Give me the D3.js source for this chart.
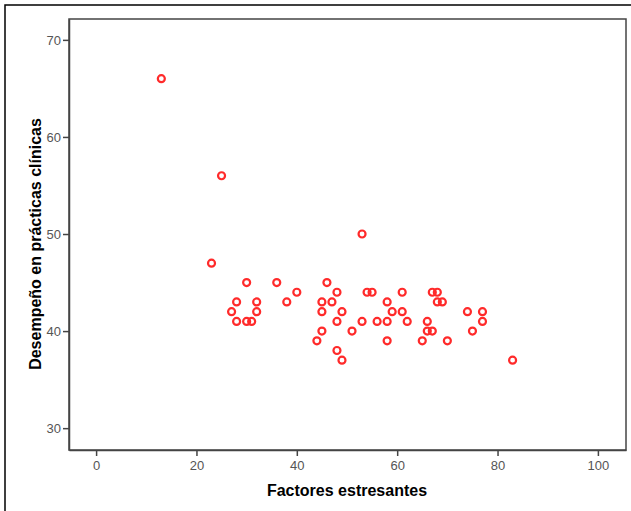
<!DOCTYPE html>
<html>
<head>
<meta charset="utf-8">
<script src="https://cdn.jsdelivr.net/npm/d3@7"></script>
<style>
  body { margin: 0; background: #fff; }
  text { font-family: "Liberation Sans", Arial, sans-serif; }
</style>
</head>
<body>
<div id="container"></div>
<script>
const width = 631;
const height = 511;

// data
const factores = [13, 25, 23, 53,
  30, 36, 46,
  40, 48, 54, 55, 61, 67, 68,
  28, 32, 38, 45, 47, 58, 68, 69,
  27, 32, 45, 49, 59, 61, 74, 77,
  28, 30, 31, 48, 53, 56, 58, 62, 66, 77,
  45, 51, 66, 67, 75,
  44, 58, 65, 70,
  48,
  49, 83];
const desempeno = [66, 56, 47, 50,
  45, 45, 45,
  44, 44, 44, 44, 44, 44, 44,
  43, 43, 43, 43, 43, 43, 43, 43,
  42, 42, 42, 42, 42, 42, 42, 42,
  41, 41, 41, 41, 41, 41, 41, 41, 41, 41,
  40, 40, 40, 40, 40,
  39, 39, 39, 39,
  38,
  37, 37];
const xTicks = [0, 20, 40, 60, 80, 100];
const yTicks = [30, 40, 50, 60, 70];

const plot = { left: 69, top: 19, right: 626, bottom: 450 };

const svg = d3.select("#container").append("svg")
  .attr("width", width)
  .attr("height", height);

// outer frame
svg.append("rect")
  .attr("x", 5).attr("y", 5)
  .attr("width", width + 10).attr("height", height + 10)
  .attr("fill", "none")
  .attr("stroke", "#000")
  .attr("stroke-width", 1.5);

//----------------------------SCALES----------------------------//
const xScale = d3.scaleLinear()
  .domain([-5.4, 105.6])
  .range([plot.left, plot.right]);
const yScale = d3.scaleLinear()
  .domain([27.75, 72.15])
  .range([plot.bottom, plot.top]);

// plot box
svg.append("rect")
  .attr("x", plot.left).attr("y", plot.top)
  .attr("width", plot.right - plot.left)
  .attr("height", plot.bottom - plot.top)
  .attr("fill", "#fff")
  .attr("stroke", "#444")
  .attr("stroke-width", 1.5);

//-----------------------------AXES-----------------------------//
const xaxis = d3.axisBottom(xScale)
  .tickValues(xTicks)
  .tickSize(6)
  .tickPadding(5)
  .tickSizeOuter(0);
const yaxis = d3.axisLeft(yScale)
  .tickValues(yTicks)
  .tickSize(6)
  .tickPadding(2)
  .tickSizeOuter(0);

const gx = svg.append("g")
  .attr("transform", "translate(0," + plot.bottom + ")")
  .call(xaxis);
const gy = svg.append("g")
  .attr("transform", "translate(" + plot.left + ",0)")
  .call(yaxis);

[gx, gy].forEach(g => {
  g.select(".domain").attr("stroke", "#444").attr("stroke-width", 1.5);
  g.selectAll(".tick line").attr("stroke", "#444").attr("stroke-width", 1.5);
  g.selectAll(".tick text")
    .attr("fill", "#555")
    .style("font-size", "13px")
    .style("font-family", "'Liberation Sans', Arial, sans-serif");
});

svg.append("text")
  .attr("x", (xScale(0) + xScale(100)) / 2)
  .attr("y", 496)
  .attr("text-anchor", "middle")
  .style("font-size", "16px")
  .style("font-weight", "bold")
  .text("Factores estresantes");

svg.append("text")
  .attr("transform", "translate(41," + 244 + ") rotate(-90)")
  .attr("text-anchor", "middle")
  .style("font-size", "16px")
  .style("font-weight", "bold")
  .text("Desempeño en prácticas clínicas");

//----------------------------POINTS----------------------------//
svg.append("g")
  .selectAll("circle")
  .data(factores.map((f, i) => ({ x: f, y: desempeno[i] })))
  .enter()
  .append("circle")
  .attr("cx", d => xScale(d.x))
  .attr("cy", d => yScale(d.y))
  .attr("r", 3.5)
  .attr("fill", "none")
  .attr("stroke", "#ff2a2a")
  .attr("stroke-width", 2.2);
</script>
</body>
</html>
